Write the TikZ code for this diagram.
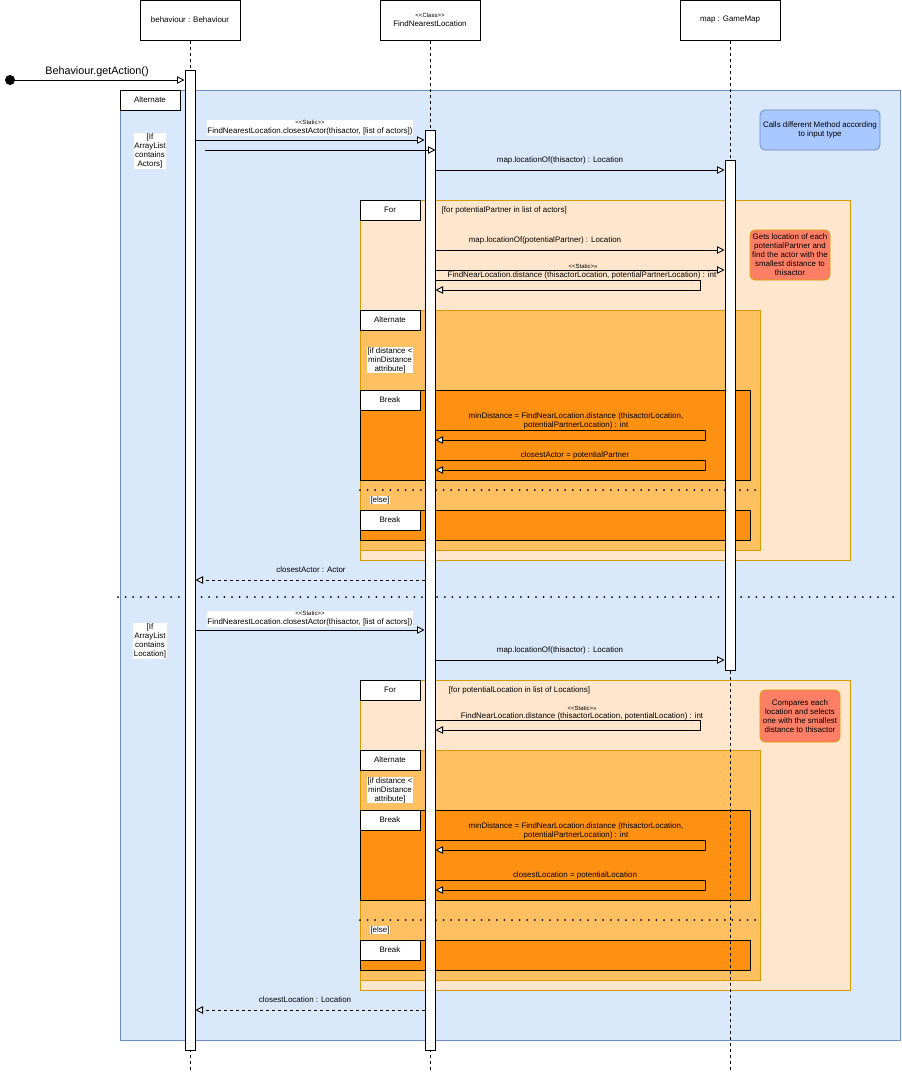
\documentclass[tikz,border=0pt]{standalone}
\usepackage{fontspec}
\setmainfont{Liberation Sans}
\usetikzlibrary{arrows.meta}
\definecolor{blueF}{HTML}{DAE8FC}
\definecolor{blueS}{HTML}{6C8EBF}
\definecolor{peachF}{HTML}{FFE6CC}
\definecolor{orS}{HTML}{D79B00}
\definecolor{altF}{HTML}{FFC062}
\definecolor{breakF}{HTML}{FF9112}
\definecolor{noteB}{HTML}{A9C8FF}
\definecolor{noteR}{HTML}{FF7F66}
\newcommand\fs{\fontsize{7.95}{9}\selectfont}
\newcommand\fss{\fontsize{6}{6.5}\selectfont}
\newcommand\stLL{<\kern0pt<}
\newcommand\stGG{>\kern0pt>}
\begin{document}
\begin{tikzpicture}[x=1pt,y=-1pt,
  head/.style={draw, line width=1pt, fill=white, minimum width=100pt, minimum height=40pt, inner sep=0pt, font=\fs, align=center},
  actbar/.style={draw, line width=1pt, fill=white, minimum width=10pt, inner sep=0pt},
  lifeln/.style={line width=0.8pt, dash pattern=on 3pt off 3pt},
  tag/.style={draw, line width=1pt, fill=white, minimum width=60pt, minimum height=20pt, inner sep=0pt, font=\fs},
  lbl/.style={font=\fs, inner sep=0.5pt, align=center},
  wlbl/.style={lbl, fill=white},
  msg/.style={line width=0.9pt, -{Triangle[length=7.5pt,width=7.5pt,fill=white]}},
  ret/.style={msg, dash pattern=on 3pt off 3pt},
  dotsep/.style={line width=2pt, line cap=round, dash pattern=on 0pt off 7.6pt},
  frameA/.style={fill=blueF, draw=blueS, line width=1pt},
  frameF/.style={fill=peachF, draw=orS, line width=1pt},
  frameAlt/.style={fill=altF, draw=orS, line width=1pt},
  frameB/.style={fill=breakF, draw=black, line width=1pt},
  note/.style={rounded corners=5pt, line width=0.8pt, font=\fs, align=center, inner sep=0pt}
]
\useasboundingbox (0,0) rectangle (902,1072);
% frames
\draw[frameA] (120,90) rectangle (900,1040);
\draw[frameF] (360,200) rectangle (850,560);
\draw[frameAlt] (360,310) rectangle (760,550);
\draw[frameB] (360,390) rectangle (750,480);
\draw[frameB] (360,510) rectangle (750,540);
\draw[frameF] (360,680) rectangle (850,990);
\draw[frameAlt] (360,750) rectangle (760,980);
\draw[frameB] (360,810) rectangle (750,900);
\draw[frameB] (360,940) rectangle (750,970);
\coordinate (d1s) at (360,490); \coordinate (d1e) at (760,490);
\coordinate (d2s) at (118,597); \coordinate (d2e) at (900,597);
\coordinate (d3s) at (360,920); \coordinate (d3e) at (760,920);
\draw[dotsep] (d1s) -- (d1e);
\draw[dotsep] (d2s) -- (d2e);
\draw[dotsep] (d3s) -- (d3e);
% frame tags
\node[tag] (tA0) at (150,100) {Alternate};
\node[tag] (tF1) at (390,210) {For};
\node[tag] (tA1) at (390,320) {Alternate};
\node[tag] (tB1) at (390,400) {Break};
\node[tag] (tB2) at (390,520) {Break};
\node[tag] (tF2) at (390,690) {For};
\node[tag] (tA2) at (390,760) {Alternate};
\node[tag] (tB3) at (390,820) {Break};
\node[tag] (tB4) at (390,950) {Break};
% guards
\node[wlbl] (g1) at (150,151) {[If\\ArrayList\\contains\\Actors]};
\node[wlbl] (g2) at (150,641) {[If\\ArrayList\\contains\\Location]};
\node[wlbl] (g3) at (390,360) {[if distance <\\minDistance\\attribute]};
\node[wlbl] (g4) at (390,790) {[if distance <\\minDistance\\attribute]};
\node[wlbl] (g5) at (380,500) {[else]};
\node[wlbl] (g6) at (380,930) {[else]};
\node[lbl, anchor=west] (g7) at (441,210) {[for potentialPartner in list of actors]};
\node[lbl, anchor=west] (g8) at (448,690) {[for potentialLocation in list of Locations]};
% notes
\node[note, fill=noteB, draw=blueS, minimum width=120pt, minimum height=40pt] (n1) at (820,130) {Calls different Method according\\to input type};
\node[note, fill=noteR, draw=orS, minimum width=80pt, minimum height=50pt] (n2) at (790,255) {Gets location of each\\potentialPartner and\\find the actor with the\\smallest distance to\\thisactor};
\node[note, fill=noteR, draw=orS, minimum width=80pt, minimum height=52pt] (n3) at (800,716) {Compares each\\location and selects\\one with the smallest\\distance to thisactor};
% lifeline heads
\node[head] (h1) at (190,20) {behaviour : Behaviour};
\node[head] (h2) at (430,20) {{\fss \stLL Class\stGG}\\FindNearestLocation};
\node[head] (h3) at (730,20) {map : GameMap};
\coordinate (e1) at (190,1072);
\coordinate (e2) at (430,1072);
\coordinate (e3) at (730,1072);
\draw[lifeln] (h1.south) -- (e1);
\draw[lifeln] (h2.south) -- (e2);
\draw[lifeln] (h3.south) -- (e3);
% activation bars
\node[actbar, minimum height=980pt] (a1) at (190,560) {};
\node[actbar, minimum height=920pt] (a2) at (430,590) {};
\node[actbar, minimum height=510pt] (a3) at (730,415) {};
% start
\node[circle, fill=black, minimum size=10pt, inner sep=0pt] (st) at (10,80) {};
\draw[msg] (st.center) -- (a1.west |- st.center);
\node[lbl, font=\fontsize{10.8}{12}\selectfont] (l0) at (97,72) {Behaviour.getAction()};
% messages section 1
\draw[msg] (a1.east |- 0,140) -- (a2.west |- 0,140);
\node[wlbl] (l1) at (310,128) {{\fss \stLL Static\stGG}\\FindNearestLocation.closestActor(thisactor, [list of actors])};
\coordinate (m1b) at (205,150);
\draw[msg] (m1b) -- (a2.east |- m1b);
\draw[msg] (a2.east |- 0,170) -- (a3.west |- 0,170);
\node[lbl] (l2) at (560,160) {map.locationOf(thisactor) : Location};
\draw[msg] (a2.east |- 0,250) -- (a3.west |- 0,250);
\node[lbl] (l3) at (545,240) {map.locationOf(potentialPartner) : Location};
\draw[msg] (a2.east |- 0,270) -- (a3.west |- 0,270);
\node[lbl, font=\fss] (l4a) at (583,266) {\stLL Static\stGG>};
\node[lbl] (l4) at (582,275.5) {FindNearLocation.distance (thisactorLocation, potentialPartnerLocation) : int};
\draw[msg] (a2.east |- 0,280) -- ++(265,0) -- ++(0,10) -- (a2.east |- 0,290);
\node[lbl] (l5) at (576,420.5) {minDistance = FindNearLocation.distance (thisactorLocation,\\potentialPartnerLocation) : int};
\draw[msg] (a2.east |- 0,430) -- ++(270,0) -- ++(0,10) -- (a2.east |- 0,440);
\node[lbl] (l6) at (575,455) {closestActor = potentialPartner};
\draw[msg] (a2.east |- 0,460) -- ++(270,0) -- ++(0,10) -- (a2.east |- 0,470);
\draw[ret] (a2.west |- 0,580) -- (a1.east |- 0,580);
\node[lbl] (l7) at (311,570) {closestActor : Actor};
% messages section 2
\draw[msg] (a1.east |- 0,630) -- (a2.west |- 0,630);
\node[wlbl] (l8) at (310,618.5) {{\fss \stLL Static\stGG}\\FindNearestLocation.closestActor(thisactor, [list of actors])};
\draw[msg] (a2.east |- 0,660) -- (a3.west |- 0,660);
\node[lbl] (l9) at (560,650) {map.locationOf(thisactor) : Location};
\node[lbl, font=\fss] (l10a) at (582,708) {\stLL Static\stGG>};
\node[lbl] (l10) at (582,716.5) {FindNearLocation.distance (thisactorLocation, potentialLocation) : int};
\draw[msg] (a2.east |- 0,720) -- ++(265,0) -- ++(0,10) -- (a2.east |- 0,730);
\node[lbl] (l11) at (576,830.5) {minDistance = FindNearLocation.distance (thisactorLocation,\\potentialPartnerLocation) : int};
\draw[msg] (a2.east |- 0,840) -- ++(270,0) -- ++(0,10) -- (a2.east |- 0,850);
\node[lbl] (l12) at (575,875) {closestLocation = potentialLocation};
\draw[msg] (a2.east |- 0,880) -- ++(270,0) -- ++(0,10) -- (a2.east |- 0,890);
\draw[ret] (a2.west |- 0,1010) -- (a1.east |- 0,1010);
\node[lbl] (l13) at (305,1000) {closestLocation : Location};
\end{tikzpicture}
\end{document}
